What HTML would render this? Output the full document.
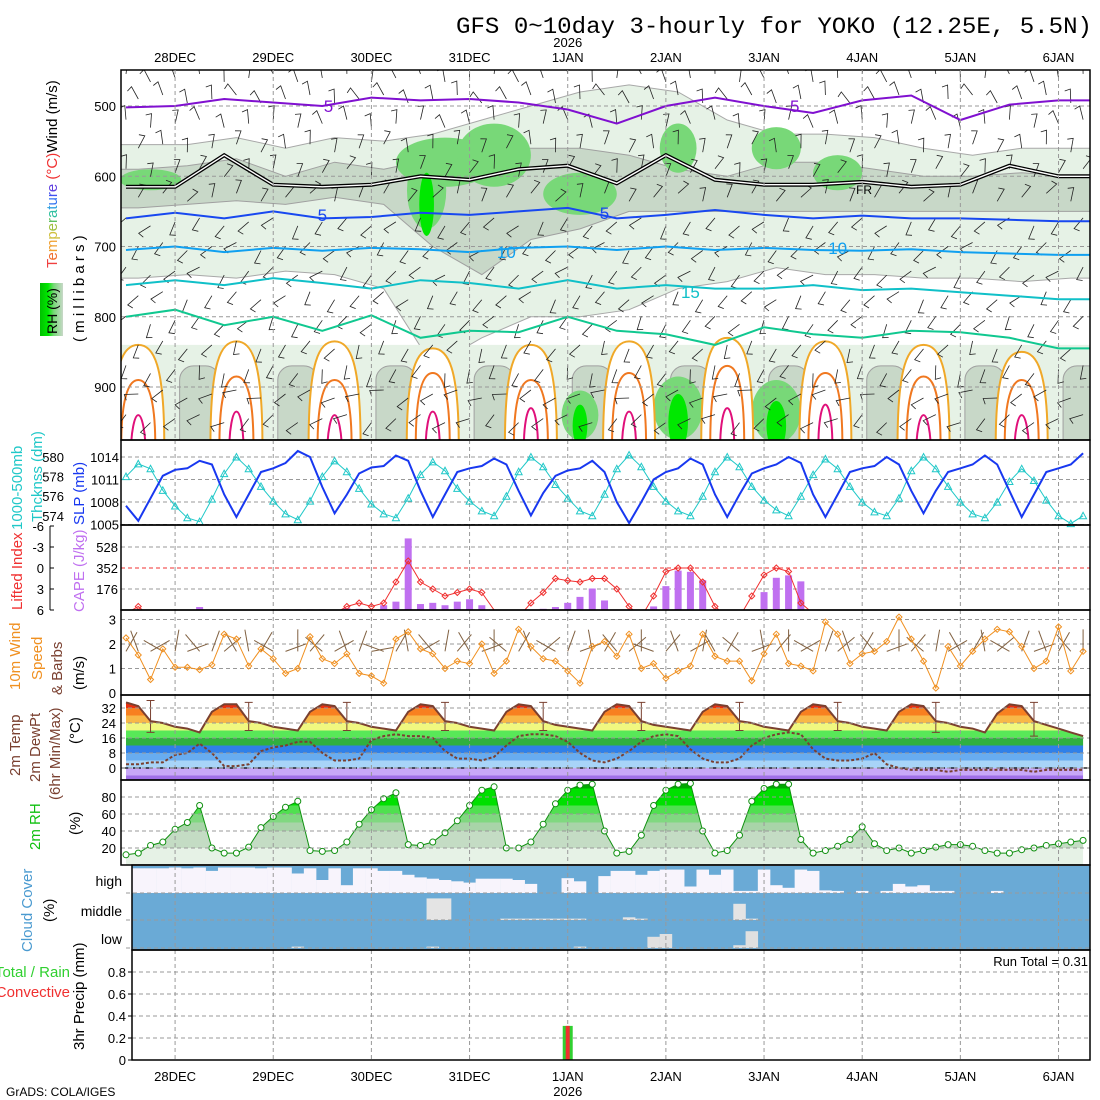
<!DOCTYPE html>
<html><head><meta charset="utf-8"><title>GFS meteogram YOKO</title>
<style>
html,body{margin:0;padding:0;background:#fff;}
svg{display:block;font-family:"Liberation Sans",sans-serif;}
text{font-family:"Liberation Sans",sans-serif;}
.mono{font-family:"Liberation Mono",monospace;}
</style></head>
<body>
<svg id="chart" xmlns="http://www.w3.org/2000/svg" width="1100" height="1100" viewBox="0 0 1100 1100">
<defs>
<clipPath id="clipMain"><rect x="121" y="70" width="969" height="370"/></clipPath>
<clipPath id="clip3"><rect x="121" y="525" width="969" height="85"/></clipPath>
<clipPath id="clipTemp"><path id="tempClipPath" d=""/></clipPath>
<clipPath id="clipRH"><path id="rhClipPath" d=""/></clipPath>
<linearGradient id="rhBox" x1="0" x2="1" y1="0" y2="0">
<stop offset="0" stop-color="#00c000"/><stop offset="0.35" stop-color="#00e800"/><stop offset="0.6" stop-color="#78d878"/><stop offset="1" stop-color="#c8d8c8"/></linearGradient>
</defs>
<text class="mono" x="1092" y="33" text-anchor="end" font-size="23" textLength="636" lengthAdjust="spacingAndGlyphs">GFS 0~10day 3-hourly for YOKO (12.25E, 5.5N)</text>
<g id="layer"></g>
</svg>
<script>
// ---------- data ----------
const dates = ["28DEC","29DEC","30DEC","31DEC","1JAN","2JAN","3JAN","4JAN","5JAN","6JAN"];
const dateIdx = [4,12,20,28,36,44,52,60,68,76];
const pLevels = [500,600,700,800,900];
const temp2m = [35,33,25,24,22,21,19,30, 34,34,25,24,22,21,20,30, 34,33,25,24,22,21,20,30, 34,33,25,24,22,21,20,30, 34,33,25,23,22,21,20,30, 34,33,25,23,22,21,20,30, 34,33,25,24,22,21,20,30, 34,33,25,24,22,21,20,30, 34,33,25,24,22,21,19,29, 34,33,25,23,21,19,17];
const dew2m = [2,2,3,3,7,8,13,8, 1,1,2,9,11,12,14,14, 8,4,4,5,15,17,18,17, 17,16,9,5,5,4,6,12, 17,18,18,17,14,8,4,3, 5,9,14,17,18,17,10,5, 3,3,5,12,16,18,19,18, 10,5,4,4,5,8,2,0, -1,-1,-1,-2,-1,-1,-1,-1, -1,-1,-2,-1,-1,-1,-1];
const rh2m = [12,14,23,27,42,50,70,20, 14,14,21,44,57,68,75,17, 16,17,27,48,65,78,85,24, 23,27,38,52,70,88,92,20, 20,27,48,72,88,94,95,40, 14,16,35,70,88,95,96,40, 14,17,35,75,90,95,95,30, 14,17,22,30,45,25,17,20, 14,17,21,24,24,22,17,14, 14,18,20,23,25,27,29];
const slp = [1007.5,1005.5,1008.5,1011.5,1012.3,1012.5,1013.5,1013, 1009,1006,1009,1012,1012.5,1013.2,1014.8,1014, 1010,1006.5,1009,1011.8,1012.6,1012.8,1014.2,1013.5, 1009.5,1006,1009,1012,1012.5,1012.8,1013.8,1013, 1009.5,1006.2,1009.2,1011.5,1012.2,1012.5,1013.5,1012, 1008,1005.2,1008,1011,1012,1012.5,1013.8,1013, 1009,1006,1009,1011.8,1012.5,1013,1014,1013.2, 1009,1006,1009,1012,1012.5,1012.8,1014,1013, 1009.5,1006.5,1009.5,1012,1012.5,1013,1014.2,1013, 1009.5,1006,1009,1012,1012.5,1013,1014.5];
const thick = [578,579.3,578.8,576.6,575,573.8,573.4,575.7, 578.3,580,578.8,577,575.5,574.2,573.6,575.5, 578,579.6,578.5,576.8,575.2,574.2,573.8,575.8, 578.2,579.5,578.6,576.8,575.5,574.5,574,576, 578.5,580,579,577.2,575.8,574.5,574,576.2, 578.8,580.2,579,577,575.5,574.5,574,576, 578.5,580,579,577,575.6,574.6,574,576, 578.2,579.8,578.8,577,575.4,574.4,574,575.8, 578.6,580,578.8,577,575.4,574.2,573.8,575.4, 577.5,578.8,577.6,575.6,574,573.2,574];
const cape = [0,0,0,0,0,0,25,0, 0,0,0,0,0,5,5,5, 5,0,15,10,0,40,70,600, 50,60,40,70,90,40,0,0, 0,0,10,25,60,110,180,80, 0,0,0,30,200,330,320,250, 0,0,0,0,150,270,290,240, 0,0,0,0,0,0,0,0, 0,0,0,0,0,0,0,0, 0,0,0,0,0,0,0];
const liftedIdx = [6.5,5.5,7,7,7,7,6.5,7, 7,7,7,6.5,6.5,6.5,6.5,6.5, 6.5,6.5,5.5,5,5.5,5,2,-1, 2,3,4,3.5,3,3.5,6,7, 7,5,3.5,1.5,1.8,2,1.5,1.5, 3,5.5,7,4,0.5,0,0,2, 5.5,7,7,4,1,0,0.5,5, 6.5,7,7,7,7,7,7,7, 7,7,7,7,7,7,7,7, 7,7,7,7,7,7,7];
const wspd = [2.25,1.55,0.55,1.8,1.05,1.05,0.95,1.15, 2.4,2.2,1.1,1.8,1.4,0.8,1.0,2.3, 1.4,1.2,1.6,0.8,0.7,0.4,2.2,2.5, 1.8,1.6,1.0,1.3,1.2,2.0,0.8,1.3, 2.6,1.9,1.4,1.3,0.9,0.4,1.9,2.1, 1.5,2.4,1.0,1.2,0.6,0.9,1.1,2.4, 1.5,1.3,1.3,0.5,1.6,2.4,1.2,1.1, 0.9,2.9,2.4,1.2,1.6,1.7,2.1,3.1, 2.2,1.3,0.2,1.9,1.1,1.7,2.2,2.6, 2.5,1.9,1.0,1.3,2.7,0.9,1.7];
const wdir10 = [60,110,30,150,80,20,130,70, 40,120,100,60,150,20,90,50, 140,30,110,70,10,160,60,100, 30,130,80,50,120,20,90,140, 60,110,40,150,70,20,100,60, 130,40,90,160,50,110,30,80, 120,60,140,20,100,50,90,30, 150,70,40,110,60,130,20,90, 50,140,80,30,120,60,100,40, 150,70,20,110,60,130,90];
const highClr = [0.6,0.95,0.95,0.95,0.98,0.95,0.98,0.85, 0.98,0.98,0.98,0.95,0.98,0.98,0.75,0.95, 0.5,0.95,0.3,0.95,0.95,0.85,0.85,0.7, 0.6,0.55,0.5,0.45,0.4,0.55,0.55,0.55, 0.5,0.35,0,0,0.57,0.45,0,0.65, 0.85,0.85,0.7,0.85,0.9,0.9,0.25,0.9, 0.7,0.9,0.08,0.08,0.9,0.3,0.2,0.9, 0.85,0.1,0.08,0,0.08,0,0.08,0.35, 0.25,0.3,0.08,0.08,0,0,0,0.08, 0,0,0,0,0,0,0];
const midClr = [0,0,0,0,0,0,0,0, 0,0,0,0,0,0,0,0, 0,0,0,0,0,0,0,0, 0,0.8,0.8,0,0,0,0,0.05, 0.05,0.05,0.05,0.05,0.05,0.05,0,0, 0,0.1,0.05,0,0,0,0,0, 0,0,0.6,0.05,0,0,0,0, 0,0,0,0,0,0,0,0, 0,0,0,0,0,0,0,0, 0,0,0,0,0,0,0];
const lowClr = [0,0,0,0,0,0,0,0, 0,0,0,0,0,0,0.05,0, 0,0,0,0,0,0,0,0, 0,0.05,0,0,0,0,0,0, 0,0,0,0,0,0.05,0,0, 0,0,0,0.4,0.5,0,0,0, 0,0,0.1,0.6,0,0,0,0, 0,0,0,0,0,0,0,0, 0,0,0,0,0,0,0,0, 0,0,0,0,0,0,0];
const precipTot = [0,0,0,0,0,0,0,0, 0,0,0,0,0,0,0,0, 0,0,0,0,0,0,0,0, 0,0,0,0,0,0,0,0, 0,0,0,0,0.31,0,0,0, 0,0,0,0,0,0,0,0, 0,0,0,0,0,0,0,0, 0,0,0,0,0,0,0,0, 0,0,0,0,0,0,0,0, 0,0,0,0,0,0,0];
const precipConv = [0,0,0,0,0,0,0,0, 0,0,0,0,0,0,0,0, 0,0,0,0,0,0,0,0, 0,0,0,0,0,0,0,0, 0,0,0,0,0.31,0,0,0, 0,0,0,0,0,0,0,0, 0,0,0,0,0,0,0,0, 0,0,0,0,0,0,0,0, 0,0,0,0,0,0,0,0, 0,0,0,0,0,0,0];
// upper-air (values every 4 steps, in mb)
const isoM5 = [502,500,490,495,500,488,492,490,495,505,525,500,488,500,510,492,485,520,498,492];
const iso0 = [615,615,570,612,615,612,600,605,590,585,610,570,605,612,612,608,615,612,585,600];
const iso5 = [660,652,660,650,660,658,652,655,650,645,660,655,648,655,660,656,660,660,662,664];
const iso10 = [705,700,708,702,706,702,704,708,702,700,705,700,705,702,705,706,704,708,710,712];
const iso15 = [755,748,755,745,752,760,748,752,760,748,760,755,760,760,755,762,760,765,770,775];
const iso20 = [800,790,812,800,820,798,830,820,822,800,820,825,840,815,825,830,820,822,830,845];
const lgTop = [555,555,545,560,545,550,540,520,500,480,470,480,520,540,540,545,560,570,560,560];
const lgBot = [745,740,745,735,740,760,870,830,800,800,790,760,750,730,740,740,745,745,750,745];
const grTop = [590,585,575,600,580,590,575,560,560,560,570,590,600,580,580,590,600,600,595,600];
const grBot = [645,640,635,640,630,640,700,740,690,675,650,650,650,650,650,650,650,650,650,650];
const patchI = [2,24.5,26,30,37,45,53,58,45,37,53];
const patchP = [605,620,580,570,625,560,560,595,930,940,935];
const patchW = [2.5,1.6,4,3,3,1.5,2,2,2,1.5,2];
const patchH = [15,55,35,45,30,35,30,25,45,35,45];
const loop25 = [840,835,835,845,840,835,830,835,840,850];
const loop30 = [890,885,890,880,890,880,870,880,885,890];
const loop35 = [940,935,940,935,930,935,930,925,940,940];
const barbLevels = [460,490,525,560,595,630,665,700,735,770,805,840,875,910,945];
const barbDir = [100,110,95,80,70,60,230,225,225,230,235,240,250,200,215];

// ---------- scales ----------
const NS = "http://www.w3.org/2000/svg";
const layer = document.getElementById('layer');
const X = i => 126 + i * 12.27;
const Yp = p => 106 + (p - 500) * 0.7025;
const Yslp = v => 457 + (1014 - v) * 7.5;
const Yth = v => 457 + (580 - v) * 9.8;
const Yli = v => 568 + v * 7;
const Ycape = v => 610 - v * 0.1193;
const Yws = v => 693 - v * 24.5;
const Yt = v => 768 - v * 1.875;
const Yrh = v => 865 - v * 0.85;
const Ypr = v => 1060 - v * 110;
function el(tag, attrs, parent) {
  const e = document.createElementNS(NS, tag);
  for (const k in attrs) e.setAttribute(k, attrs[k]);
  (parent || layer).appendChild(e);
  return e;
}
function grp(name) {
  const g = el('g', {});
  
  
  return g;
}
function txt(parent, x, y, s, attrs) {
  const t = el('text', Object.assign({x: x, y: y, 'font-size': 13}, attrs || {}), parent);
  t.textContent = s;
  return t;
}
function line(parent, pts, attrs) {
  return el('polyline', Object.assign({points: pts.map(p => p[0].toFixed(1) + ',' + p[1].toFixed(1)).join(' '), fill: 'none'}, attrs), parent);
}
const N = temp2m.length;

// ---------- main panel ----------
const gMain = grp('upper-air-panel');
const gClip = el('g', {'clip-path': 'url(#clipMain)'}, gMain);
el('rect', {x: 121, y: 70, width: 969, height: 370, fill: '#fff'}, gClip);
function bandPath(top, bot) {
  const a = top.map((p, k) => [X(k * 4 + 1), Yp(p)]);
  const b = bot.map((p, k) => [X(k * 4 + 1), Yp(p)]).reverse();
  a.unshift([110, Yp(top[0])]); a.push([1100, Yp(top[top.length - 1])]);
  b.unshift([1100, Yp(bot[bot.length - 1])]); b.push([110, Yp(bot[0])]);
  return 'M' + a.concat(b).map(p => p[0].toFixed(1) + ',' + p[1].toFixed(1)).join('L') + 'Z';
}
const lgBand = el('path', {d: bandPath(lgTop, lgBot), fill: '#e6f2e6', stroke: '#a8a8a8', 'stroke-width': 1}, gClip);


const lowBand = el('rect', {x: 121, y: Yp(840), width: 969, height: 440 - Yp(840), fill: '#e6f2e6'}, gClip);


const grBand = el('path', {d: bandPath(grTop, grBot), fill: '#c8d8c8', stroke: '#a0a0a0', 'stroke-width': 1}, gClip);


for (let k = 0; k < 10; k++) {
  const c = el('rect', {x: X(6 + 8 * k) - 20, y: Yp(870), width: 40, height: 120, rx: 14, fill: '#c8d8c8', stroke: '#a0a0a0'}, gClip);
  
  
}
for (let j = 0; j < patchI.length; j++) {
  const e = el('ellipse', {cx: X(patchI[j]), cy: Yp(patchP[j]), rx: patchW[j] * 12.27, ry: patchH[j] * 0.7025, fill: '#78d878'}, gClip);
  
  
}
const bright = [[24.5, 640, 0.6, 45], [45, 950, 0.8, 40], [37, 955, 0.6, 30], [53, 955, 0.8, 35]];
bright.forEach(b => {
  const e = el('ellipse', {cx: X(b[0]), cy: Yp(b[1]), rx: b[2] * 12.27, ry: b[3] * 0.7025, fill: '#00e800'}, gClip);
  
  
});
function loopPath(ci, topP, hw) {
  const x = X(ci), yt = Yp(topP);
  return `M${x - hw},445 C${x - hw},${yt + 20} ${x - hw * 0.6},${yt} ${x},${yt} C${x + hw * 0.6},${yt} ${x + hw},${yt + 20} ${x + hw},445`;
}
for (let k = 0; k < 10; k++) {
  const ci = 1 + 8 * k;
  const w = el('path', {d: loopPath(ci, loop25[k], 26), fill: '#fff', stroke: '#f0a828', 'stroke-width': 2}, gClip);
  
  
  const o = el('path', {d: loopPath(ci, loop30[k], 17), fill: 'none', stroke: '#f07820', 'stroke-width': 2}, gClip);
  
  
  const m = el('path', {d: loopPath(ci, loop35[k], 7), fill: 'none', stroke: '#e0107a', 'stroke-width': 2}, gClip);
  
  
}
pLevels.forEach(p => {
  const l = el('line', {x1: 121, x2: 1090, y1: Yp(p), y2: Yp(p), stroke: '#999', 'stroke-dasharray': '4,3'}, gClip);
  
  
});
// wind barbs (staggered)
for (let i = 0; i < N; i++) {
  for (let j = 0; j < barbLevels.length; j++) {
    if ((i + j) % 2) continue;
    const d = (barbDir[j] + ((i * 37 + j * 11) % 5 - 2) * 9) * Math.PI / 180;
    const x0 = X(i), y0 = Yp(barbLevels[j]) + ((i % 3) - 1) * 4;
    const x1 = x0 + Math.cos(d) * 14, y1 = y0 - Math.sin(d) * 14;
    const fd = d + Math.PI * 0.6;
    const b = el('path', {d: `M${x0.toFixed(1)},${y0.toFixed(1)}L${x1.toFixed(1)},${y1.toFixed(1)}L${(x1 + Math.cos(fd) * 6).toFixed(1)},${(y1 - Math.sin(fd) * 6).toFixed(1)}`, fill: 'none', stroke: '#222', 'stroke-width': 0.8}, gClip);
    
    
  }
}
function iso(arr, color, name, w) {
  const pts = arr.map((p, k) => [X(k * 4), Yp(p)]);
  pts.push([1095, Yp(arr[arr.length - 1])]);
  const l = line(gClip, pts, {stroke: color, 'stroke-width': w || 2});
  
  
}
iso(iso0, '#000', 'freezing-level-outer', 4);
iso(iso0, '#fff', 'freezing-level-inner', 1.4);
iso(isoM5, '#8010d0', 'isotherm-minus5');
iso(iso5, '#1848f0', 'isotherm-5');
iso(iso10, '#10a0f0', 'isotherm-10');
iso(iso15, '#10c0c8', 'isotherm-15');
iso(iso20, '#10c890', 'isotherm-20');
const isoLabels = [[16, 655, '5', '#1848f0'], [39, 652, '5', '#1848f0'], [31, 708, '10', '#10a0f0'], [58, 702, '10', '#10a0f0'], [46, 765, '15', '#10c0c8'], [16.5, 500, '5', '#8010d0'], [54.5, 500, '5', '#8010d0']];
isoLabels.forEach(l => {
  const t = txt(gClip, X(l[0]), Yp(l[1]) + 6, l[2], {fill: l[3], 'font-size': 17, 'text-anchor': 'middle'});
  
  
});
const fr = txt(gClip, X(59.5), Yp(618) + 5, 'FR', {'font-size': 12});


const frame1 = el('rect', {x: 121, y: 70, width: 969, height: 370, fill: 'none', stroke: '#000', 'stroke-width': 1.5}, gMain);


pLevels.forEach(p => {
  const t = txt(gMain, 116, Yp(p) + 5, String(p), {'text-anchor': 'end', 'font-size': 13});
  
  
});

function panel(name, x0, y0, y1, hticks) {
  const g = grp(name);
  hticks.forEach(y => {
    const l = el('line', {x1: x0, x2: 1090, y1: y, y2: y, stroke: '#999', 'stroke-dasharray': '4,3'}, g);
    
    
  });
  dateIdx.forEach(i => {
    const l = el('line', {x1: X(i), x2: X(i), y1: y0, y2: y1, stroke: '#999', 'stroke-dasharray': '4,3'}, g);
    
    
  });
  return g;
}
dateIdx.forEach(i => {
  const l = el('line', {x1: X(i), x2: X(i), y1: 70, y2: 440, stroke: '#999', 'stroke-dasharray': '4,3'}, gMain);
  
  
});

// ---------- panel 2 ----------
const slpTicks = [1014, 1011, 1008, 1005];
const thTicks = [580, 578, 576, 574];
const g2 = panel('thickness-slp-panel', 121, 440, 525, slpTicks.map(Yslp));
const thLine = line(g2, thick.map((v, i) => [X(i), Yth(v)]), {stroke: '#20c8c8', 'stroke-width': 1});


thick.forEach((v, i) => {
  const m = el('path', {d: `M${X(i) - 3.5},${Yth(v) + 3}L${X(i) + 3.5},${Yth(v) + 3}L${X(i)},${Yth(v) - 3.5}Z`, fill: 'none', stroke: '#20c8c8'}, g2);
  
  
});
const slpLine = line(g2, slp.map((v, i) => [X(i), Yslp(v)]), {stroke: '#1838f0', 'stroke-width': 2});


slpTicks.forEach(v => {
  const t = txt(g2, 119, Yslp(v) + 5, String(v), {'text-anchor': 'end'});
  
  
});
thTicks.forEach(v => {
  const t = txt(g2, 64, Yth(v) + 5, String(v), {'text-anchor': 'end'});
  
  
});

// ---------- panel 3 ----------
const capeTicks = [528, 352, 176];
const liTicks = [-6, -3, 0, 3, 6];
const g3 = panel('cape-li-panel', 121, 525, 610, capeTicks.map(Ycape));
capeTicks.forEach(v => {
  const t = txt(g3, 118, Ycape(v) + 5, String(v), {'text-anchor': 'end'});
  
  
});
liTicks.forEach(v => {
  const t = txt(g3, 44, Yli(v) + 5, String(v), {'text-anchor': 'end'});
  
  
  const tk = el('line', {x1: 50, x2: 54, y1: Yli(v), y2: Yli(v), stroke: '#000'}, g3);
  
  
});
const liAxis = el('line', {x1: 50, x2: 50, y1: 526, y2: 610, stroke: '#000'}, g3);


const zeroLi = el('line', {x1: 121, x2: 1090, y1: Yli(0), y2: Yli(0), stroke: '#f03030', 'stroke-dasharray': '4,3'}, g3);


cape.forEach((v, i) => {
  if (v <= 0) return;
  const r = el('rect', {x: X(i) - 3.5, y: Ycape(v), width: 7, height: 610 - Ycape(v), fill: '#c070f0'}, g3);
  
  
});
const g3c = el('g', {'clip-path': 'url(#clip3)'}, g3);
const liLine = line(g3c, liftedIdx.map((v, i) => [X(i), Yli(v)]), {stroke: '#f03030', 'stroke-width': 1});


liftedIdx.forEach((v, i) => {
  if (v >= 6) return;
  const m = el('path', {d: `M${X(i)},${Yli(v) - 3}L${X(i) + 3},${Yli(v)}L${X(i)},${Yli(v) + 3}L${X(i) - 3},${Yli(v)}Z`, fill: 'none', stroke: '#f03030'}, g3c);
  
  
});

// ---------- panel 4 ----------
const wsTicks = [0, 1, 2, 3];
const g4 = panel('wind10m-panel', 121, 610, 695, [1, 2, 3].map(Yws));
wsTicks.forEach(v => {
  const t = txt(g4, 116, Yws(v) + 5, String(v), {'text-anchor': 'end'});
  
  
});
wspd.forEach((v, i) => {
  const d = wdir10[i] * Math.PI / 180;
  const x0 = X(i), y0 = Yws(1.7);
  const b = el('path', {d: `M${x0},${y0}L${(x0 + Math.cos(d) * 22).toFixed(1)},${(y0 - Math.sin(d) * 22).toFixed(1)}`, stroke: '#806040', 'stroke-width': 1}, g4);
  
  
});
const wsLine = line(g4, wspd.map((v, i) => [X(i), Yws(v)]), {stroke: '#f09020', 'stroke-width': 1});


wspd.forEach((v, i) => {
  const m = el('path', {d: `M${X(i)},${Yws(v) - 3}L${X(i) + 3},${Yws(v)}L${X(i)},${Yws(v) + 3}L${X(i) - 3},${Yws(v)}Z`, fill: 'none', stroke: '#f09020'}, g4);
  
  
});

// ---------- panel 5 ----------
const tTicks = [0, 8, 16, 24, 32];
const tempBands = [[-10, -4, '#a070e8'], [-4, 0, '#c8a8f8'], [0, 4, '#a8d4f8'], [4, 8, '#68acf0'], [8, 12, '#3080e8'], [12, 16, '#30b040'], [16, 20, '#58e858'], [20, 24, '#f0f880'], [24, 28, '#f8b848'], [28, 32, '#f88020'], [32, 40, '#e83010']];
const g5 = grp('temperature-panel');
const tArea = 'M' + X(0) + ',780' + temp2m.map((v, i) => 'L' + X(i).toFixed(1) + ',' + Yt(v).toFixed(1)).join('') + 'L' + X(N - 1) + ',780Z';
document.getElementById('tempClipPath').setAttribute('d', tArea);
const gT = el('g', {'clip-path': 'url(#clipTemp)'}, g5);
tempBands.forEach(b => {
  const r = el('rect', {x: 121, y: Yt(b[1]), width: 969, height: Yt(b[0]) - Yt(b[1]), fill: b[2]}, gT);
  
  
});
panel('temperature-grid', 121, 695, 780, tTicks.map(Yt));
const z0 = el('line', {x1: 121, x2: 1090, y1: Yt(0), y2: Yt(0), stroke: '#000', 'stroke-dasharray': '8,4', 'stroke-width': 1.2}, g5);


const tLine = line(g5, temp2m.map((v, i) => [X(i), Yt(v)]), {stroke: '#7a4030', 'stroke-width': 2});


const dLine = line(g5, dew2m.map((v, i) => [X(i), Yt(v)]), {stroke: '#7a4030', 'stroke-width': 2, 'stroke-dasharray': '3,2'});


for (let i = 2; i < N; i += 8) {
  const hi = Math.max(temp2m[i - 2], temp2m[i - 1]) + 1, lo = temp2m[i + 4] || 19;
  const b = el('path', {d: `M${X(i)},${Yt(hi)}V${Yt(lo)}M${X(i) - 4},${Yt(hi)}h8M${X(i) - 4},${Yt(lo)}h8`, stroke: '#7a4030', fill: 'none'}, g5);
  
  
}
tTicks.forEach(v => {
  const t = txt(g5, 116, Yt(v) + 5, String(v), {'text-anchor': 'end'});
  
  
});

// ---------- panel 6 ----------
const rhTicks = [20, 40, 60, 80];
const rhBands = [[0, 20, '#e6f2e6'], [20, 40, '#c4dcc4'], [40, 50, '#a8d4a8'], [50, 60, '#80d880'], [60, 70, '#50e050'], [70, 90, '#00e000'], [90, 101, '#00a800']];
const g6 = grp('rh-panel');
document.getElementById('rhClipPath').setAttribute('d', 'M' + X(0) + ',865' + rh2m.map((v, i) => 'L' + X(i).toFixed(1) + ',' + Yrh(v).toFixed(1)).join('') + 'L' + X(N - 1) + ',865Z');
const gR = el('g', {'clip-path': 'url(#clipRH)'}, g6);
rhBands.forEach(b => {
  const r = el('rect', {x: 121, y: Yrh(b[1]), width: 969, height: Yrh(b[0]) - Yrh(b[1]), fill: b[2]}, gR);
  
  
});
panel('rh-grid', 121, 780, 865, rhTicks.map(Yrh));
const rhLine = line(g6, rh2m.map((v, i) => [X(i), Yrh(v)]), {stroke: '#109010', 'stroke-width': 1});


rh2m.forEach((v, i) => {
  const c = el('circle', {cx: X(i), cy: Yrh(v), r: 3, fill: '#fff', stroke: '#109010'}, g6);
  
  
});
rhTicks.forEach(v => {
  const t = txt(g6, 116, Yrh(v) + 5, String(v), {'text-anchor': 'end'});
  
  
});

// ---------- panel 7 ----------
const g7 = grp('cloud-panel');
el('rect', {x: 132, y: 866, width: 958, height: 84, fill: '#6aaad6'}, g7);
const rows = [[highClr, 867, 893, '#f8f4fc', 'high-cloud-bar'], [midClr, 893, 920, '#e4e4e4', 'mid-cloud-bar'], [lowClr, 920, 948, '#e0e0e0', 'low-cloud-bar']];
rows.forEach(r => {
  r[0].forEach((v, i) => {
    if (v <= 0) return;
    const h = (r[2] - r[1]) * v;
    const b = el('rect', {x: Math.max(132, X(i) - 6.2), y: r[2] - h, width: 12.5, height: h, fill: r[3]}, g7);
    
    
  });
});
[893, 920, 948].forEach(y => {
  const l = el('line', {x1: 126, x2: 1090, y1: y, y2: y, stroke: '#999', 'stroke-dasharray': '4,3'}, g7);
  
  
});
dateIdx.forEach(i => {
  const l = el('line', {x1: X(i), x2: X(i), y1: 866, y2: 950, stroke: '#999', 'stroke-dasharray': '4,3'}, g7);
  
  
});
[['high', 880], ['middle', 910], ['low', 938]].forEach(r => {
  const t = txt(g7, 122, r[1] + 6, r[0], {'text-anchor': 'end', 'font-size': 14});
  
  
});

// ---------- panel 8 ----------
const prTicks = [0, 0.2, 0.4, 0.6, 0.8];
const g8 = panel('precip-panel', 132, 950, 1060, prTicks.slice(1).map(Ypr));
precipTot.forEach((v, i) => {
  if (v <= 0) return;
  const r = el('rect', {x: X(i) - 5, y: Ypr(v), width: 10, height: 1060 - Ypr(v), fill: '#30d030'}, g8);
  
  
});
precipConv.forEach((v, i) => {
  if (v <= 0) return;
  const r = el('rect', {x: X(i) - 2, y: Ypr(v), width: 4, height: 1060 - Ypr(v), fill: '#f03030'}, g8);
  
  
});
prTicks.forEach(v => {
  const t = txt(g8, 126, Ypr(v) + 5, String(v), {'text-anchor': 'end'});
  
  
  const tk = el('line', {x1: 128, x2: 132, y1: Ypr(v), y2: Ypr(v), stroke: '#000'}, g8);
  
  
});
const rt = txt(g8, 1088, 966, 'Run Total = 0.31', {'text-anchor': 'end', 'font-size': 13});



// ---------- frames ----------
const frames = [[121, 440, 525], [121, 525, 610], [121, 610, 695], [121, 695, 780], [121, 780, 865], [132, 865, 950], [132, 950, 1060]];
frames.forEach(f => {
  const r = el('rect', {x: f[0], y: f[1], width: 1090 - f[0], height: f[2] - f[1], fill: 'none', stroke: '#000', 'stroke-width': 1.5});
  
  
});

// ---------- date axes ----------
const gAx = grp('date-axes');
dates.forEach((d, k) => {
  const t1 = txt(gAx, X(dateIdx[k]), 62, d, {'text-anchor': 'middle', 'font-size': 13});
  
  
  const t2 = txt(gAx, X(dateIdx[k]), 1081, d, {'text-anchor': 'middle', 'font-size': 13});
  
  
});
const y1 = txt(gAx, X(36), 47, '2026', {'text-anchor': 'middle', 'font-size': 13});


const y2 = txt(gAx, X(36), 1096, '2026', {'text-anchor': 'middle', 'font-size': 13});


const cr = txt(gAx, 6, 1096, 'GrADS: COLA/IGES', {'font-size': 12});



// ---------- left titles ----------
const gL = grp('axis-titles');
function vtext(x, y, parts, size, name) {
  const t = el('text', {x: 0, y: 0, transform: `translate(${x},${y}) rotate(-90)`, 'font-size': size || 15}, gL);
  parts.forEach(p => {
    const s = el('tspan', {fill: p[1]}, t);
    s.textContent = p[0];
  });
  
  
  return t;
}
vtext(57, 268, [['T', '#f04040'], ['e', '#f07030'], ['m', '#f0a030'], ['p', '#d0c040'], ['e', '#a0c040'], ['r', '#60c060'], ['a', '#30c0a0'], ['t', '#30a0e0'], ['u', '#3070f0'], ['r', '#4050f0'], ['e', '#6040e0'], [' (°C)', '#f03030'], ['Wind (m/s)', '#000']], 15, 'upper-air-title');
const rhb = el('rect', {x: 40, y: 283, width: 23, height: 53, fill: 'url(#rhBox)'}, gL);


vtext(57, 334, [['RH (%)', '#000']], 14, 'rh-legend-label');
vtext(84, 342, [['( m i l l i b a r s )', '#000']], 15, 'pressure-axis-title');
vtext(22, 530, [['1000-500mb', '#20c8c8']], 15, 'thickness-title');
vtext(42, 522, [['Thcknss (dm)', '#20c8c8']], 15, 'thickness-units');
vtext(84, 525, [['SLP (mb)', '#1838f0']], 15, 'slp-title');
vtext(22, 610, [['Lifted Index', '#f03030']], 15, 'li-title');
vtext(84, 612, [['CAPE (J/kg)', '#c070f0']], 15, 'cape-title');
vtext(20, 690, [['10m Wind', '#f09020']], 15, 'wind10m-title');
vtext(42, 680, [['Speed', '#f09020']], 15, 'wind-speed-title');
vtext(62, 695, [['& Barbs', '#7a4030']], 15, 'barbs-title');
vtext(84, 690, [['(m/s)', '#000']], 15, 'wind-units');
vtext(20, 776, [['2m Temp', '#7a4030']], 15, 'temp-title');
vtext(40, 782, [['2m DewPt', '#7a4030']], 15, 'dewpt-title');
vtext(60, 800, [['(6hr Min/Max)', '#7a4030']], 15, 'minmax-title');
vtext(80, 744, [['(°C)', '#000']], 15, 'temp-units');
vtext(40, 850, [['2m RH', '#10c010']], 15, 'rh2m-title');
vtext(80, 835, [['(%)', '#000']], 15, 'rh-units');
vtext(32, 952, [['Cloud Cover', '#4a9ad0']], 15, 'cloud-title');
vtext(54, 922, [['(%)', '#000']], 15, 'cloud-units');
vtext(84, 1050, [['3hr Precip (mm)', '#000']], 15, 'precip-title');
const lt1 = txt(gL, 70, 977, 'Total / Rain', {'text-anchor': 'end', fill: '#30d030', 'font-size': 15});


const lt2 = txt(gL, 70, 997, 'Convective', {'text-anchor': 'end', fill: '#f03030', 'font-size': 15});


</script>
</body></html>
